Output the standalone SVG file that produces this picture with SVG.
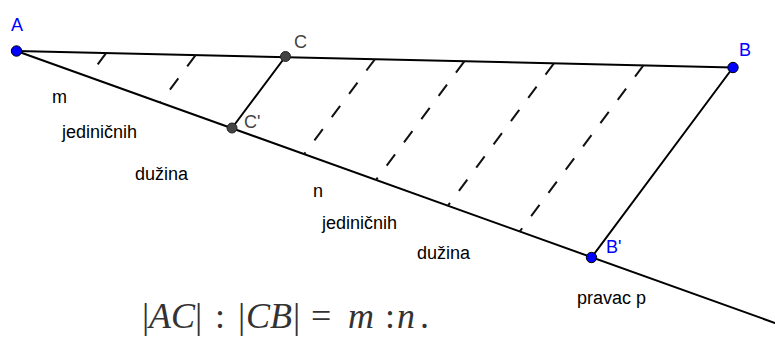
<svg xmlns="http://www.w3.org/2000/svg" width="775" height="338" viewBox="0 0 775 338">
<style>
.ln{stroke:#000;stroke-width:2;fill:none;stroke-linecap:round}
.dash{stroke:#111;stroke-width:2;fill:none;stroke-dasharray:14 15}
.lbl{font-family:"Liberation Sans",Arial,sans-serif;font-size:18px;fill:#000}
.pt{font-family:"Liberation Sans",Arial,sans-serif;font-size:18px}
.blue{fill:#0000ff}
.gray{fill:#444}
.dotB{fill:#0000ff;stroke:#000;stroke-width:1}
.dotG{fill:#444;stroke:#222;stroke-width:1}
.f{font-family:"Liberation Serif","Times New Roman",serif;font-size:36px;fill:#333}
</style>
<rect width="775" height="338" fill="#fff"/>
<g id="connectors">
<line class="ln" x1="16.5" y1="51" x2="733" y2="67.5"/>
<line class="ln" x1="16.5" y1="51" x2="775" y2="323"/>
<line class="ln" x1="285.5" y1="56.5" x2="232" y2="128"/>
<line class="ln" x1="733" y1="67.5" x2="591.5" y2="257.5"/>
<line class="dash" x1="106.1" y1="53.1" x2="88.4" y2="76.8"/>
<line class="dash" x1="195.6" y1="55.1" x2="160.3" y2="102.6"/>
<line class="dash" x1="374.8" y1="59.3" x2="304" y2="154.3"/>
<line class="dash" x1="464.3" y1="61.3" x2="375.9" y2="180.1"/>
<line class="dash" x1="553.9" y1="63.4" x2="447.8" y2="205.9"/>
<line class="dash" x1="643.4" y1="65.4" x2="519.6" y2="231.7"/>
</g>
<g id="A"><circle class="dotB" cx="16.5" cy="51" r="5.2"/><text class="pt blue" x="11" y="31">A</text></g>
<g id="B"><circle class="dotB" cx="733" cy="67.5" r="5.2"/><text class="pt blue" x="739" y="56">B</text></g>
<g id="C"><circle class="dotG" cx="285.5" cy="56.5" r="5"/><text class="pt gray" x="294" y="48">C</text></g>
<g id="Cp"><circle class="dotG" cx="232" cy="128" r="5"/><text class="pt gray" x="244" y="128">C'</text></g>
<g id="Bp"><circle class="dotB" cx="591.5" cy="257.5" r="5.2"/><text class="pt blue" x="606" y="253">B'</text></g>
<g id="labels">
<text class="lbl" x="52" y="103">m</text>
<text class="lbl" x="62" y="138">jediničnih</text>
<text class="lbl" x="135" y="180">dužina</text>
<text class="lbl" x="313" y="197">n</text>
<text class="lbl" x="322" y="229">jediničnih</text>
<text class="lbl" x="417" y="259">dužina</text>
<text class="lbl" x="577" y="304">pravac p</text>
</g>
<g id="formula">
<text class="f" y="328"><tspan x="142">|</tspan><tspan x="149" font-style="italic">AC</tspan><tspan x="195">|</tspan><tspan x="215">:</tspan><tspan x="238">|</tspan><tspan x="246" font-style="italic">CB</tspan><tspan x="293">|</tspan><tspan x="311">=</tspan><tspan x="348" font-style="italic">m</tspan><tspan x="385">:</tspan><tspan x="397" font-style="italic">n</tspan><tspan x="420">.</tspan></text>
</g>
</svg>
